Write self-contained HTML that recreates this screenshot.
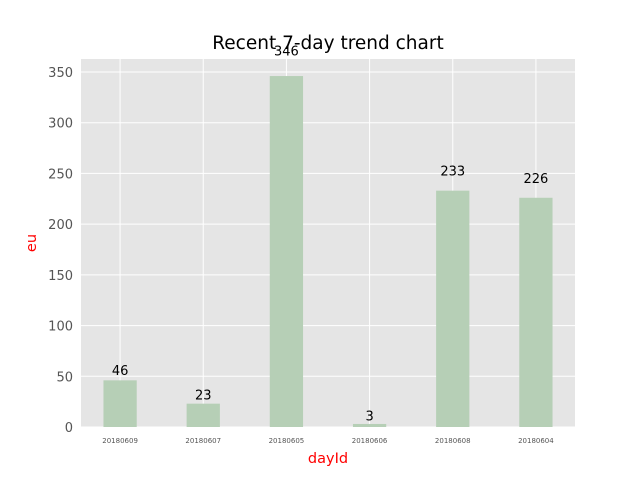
<!DOCTYPE html>
<html><head><meta charset="utf-8"><style>
body{margin:0;background:#fff;}
svg{display:block;font-family:"DejaVu Sans","Liberation Sans",sans-serif;}
</style></head><body>
<svg id="chart" width="640" height="480">
<rect x="0" y="0" width="640" height="480" fill="#fff"/>
<rect x="81" y="59" width="494" height="368" fill="#e5e5e5"/>
<g id="grid"></g><g id="bars"></g><g id="labels"></g><g id="ticks"></g>
<text x="328" y="49" font-size="18.5" text-anchor="middle" fill="#000">Recent 7-day trend chart</text>
<text x="328" y="463" font-size="14.5" text-anchor="middle" fill="red">dayId</text>
<text x="36" y="243" font-size="14.5" text-anchor="middle" fill="red" transform="rotate(-90 36 243)">eu</text>
</svg>
<script>
const categories=["20180609","20180607","20180605","20180606","20180608","20180604"];
const values=[46,23,346,3,233,226];
const yTicks=[0,50,100,150,200,250,300,350];
const NS="http://www.w3.org/2000/svg";
const L=81,R=575,T=59,B=427;
const xmin=-0.47,xmax=5.47,ymax=362.8;
function xs(i){return L+(i-xmin)/(xmax-xmin)*(R-L);}
function ys(v){return B-v/ymax*(B-T);}
function mk(t,a,p){const e=document.createElementNS(NS,t);for(const k in a)e.setAttribute(k,a[k]);p.appendChild(e);return e;}
const grid=document.getElementById('grid'),bars=document.getElementById('bars'),labels=document.getElementById('labels'),ticks=document.getElementById('ticks');
yTicks.forEach(v=>{
 const g=mk('line',{x1:L,x2:R,y1:ys(v),y2:ys(v),stroke:'#fff','stroke-width':1},grid);
 
 
 const t=mk('text',{x:L-8,y:ys(v)+5,'font-size':13,'text-anchor':'end',fill:'#555'},ticks);
 t.textContent=v;
 
 
});
categories.forEach((c,i)=>{
 const x=xs(i);
 const g=mk('line',{x1:x,x2:x,y1:T,y2:B,stroke:'#fff','stroke-width':1},grid);
 
 
 const w=0.4*(R-L)/(xmax-xmin);
 const b=mk('rect',{x:x-w/2,y:ys(values[i]),width:w,height:B-ys(values[i]),fill:'#b6cfb6'},bars);
 
 
 const lb=mk('text',{x:x,y:ys(values[i]*1.05+7)+4,'font-size':13,'text-anchor':'middle',fill:'#000'},labels);
 lb.textContent=values[i];
 
 
 const t=mk('text',{x:x,y:B+16,'font-size':7,'text-anchor':'middle',fill:'#555'},ticks);
 t.textContent=c;
 
 
});
</script>
</body></html>
